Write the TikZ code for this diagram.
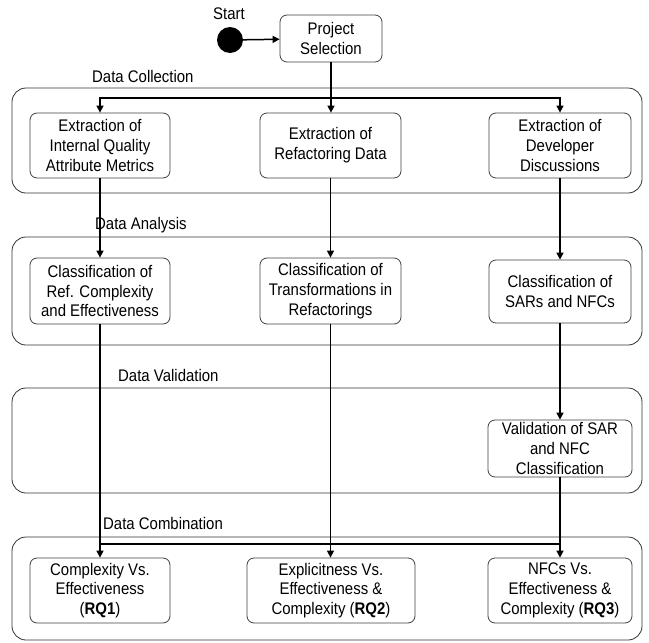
\documentclass[tikz,border=0pt]{standalone}
\usepackage{fontspec}
\setmainfont[FakeStretch=0.89]{Liberation Sans}
\usetikzlibrary{arrows.meta}
\begin{document}
\begin{tikzpicture}[x=1pt,y=-1pt,
  box/.style={draw=black!75,line width=0.8pt,rounded corners=7pt,align=center,inner sep=0pt,font=\fontsize{16.8}{19.8}\selectfont},
  cont/.style={draw=black!80,line width=0.8pt,rounded corners=14pt},
  lbl/.style={font=\fontsize{16.8}{19}\selectfont,anchor=west,inner sep=0pt},
  conn/.style={line width=1.5pt,draw=black},
  arr/.style={conn,-{Triangle[length=7pt,width=7pt]}}]
\useasboundingbox (0,0) rectangle (649,643);
% containers
\draw[cont] (12,88) rectangle (642,193);
\draw[cont] (12,237) rectangle (642,345);
\draw[cont] (12,388) rectangle (642,493);
\draw[cont] (12,537) rectangle (642,640);
% labels
\node[lbl] (l1) at (92,76) {Data Collection};
\node[lbl] (l2) at (95,225) {Data Analysis};
\node[lbl] (l3) at (118,375) {Data Validation};
\node[lbl] (l4) at (103,523) {Data Combination};
% start
\node[circle,fill=black,minimum size=26pt,inner sep=0pt] (st) at (230,40) {};
\node[font=\fontsize{16.8}{19}\selectfont,inner sep=0pt] (stl) at (229,14) {Start};
\node[box,minimum width=102pt,minimum height=47pt] (ps) at (331,38.5) {Project\\Selection};
% row 1
\node[box,minimum width=140pt,minimum height=65pt] (e1) at (100,145.5) {Extraction of\\Internal Quality\\Attribute Metrics};
\node[box,minimum width=141pt,minimum height=65pt] (e2) at (330.5,145.5) {Extraction of\\Refactoring Data};
\node[box,minimum width=142pt,minimum height=65pt] (e3) at (560,145.5) {Extraction of\\Developer\\Discussions};
% row 2
\node[box,minimum width=140pt,minimum height=66pt] (c1) at (100,291) {Classification of\\Ref. Complexity\\and Effectiveness};
\node[box,minimum width=141pt,minimum height=66pt] (c2) at (330.5,291) {Classification of\\Transformations in\\Refactorings};
\node[box,minimum width=142pt,minimum height=63pt] (c3) at (560,291.5) {Classification of\\SARs and NFCs};
% validation
\node[box,minimum width=144pt,minimum height=57pt] (v) at (560,448.5) {Validation of SAR\\and NFC\\Classification};
% row 3
\node[box,minimum width=140pt,minimum height=65pt] (r1) at (100,590.5) {Complexity Vs.\\Effectiveness\\(\textbf{RQ1})};
\node[box,minimum width=168pt,minimum height=65pt] (r2) at (331,590.5) {Explicitness Vs.\\Effectiveness \&\\Complexity (\textbf{RQ2})};
\node[box,minimum width=144pt,minimum height=65pt] (r3) at (560,590.5) {NFCs Vs.\\Effectiveness \&\\Complexity (\textbf{RQ3})};
% connectors
\draw[arr] (st) -- (ps);
\coordinate (j1) at (331,98);
\draw[conn] (ps.south) -- (j1);
\draw[arr] (j1) -| (e1.north);
\draw[arr] (j1) -| (e3.north);
\draw[arr] (j1) -- (ps.south |- e2.north);
\draw[arr] (e1) -- (c1);
\draw[arr] (e2) -- (c2);
\draw[arr] (e3) -- (c3);
\draw[arr] (c3) -- (v);
\draw[arr] (c1) -- (r1);
\draw[arr] (c2.south) -- (c2.south |- r2.north);
\draw[arr] (v) -- (r3);
\coordinate (ja) at (100,544);
\coordinate (jb) at (560,544);
\draw[conn] (ja) -- (jb);
\end{tikzpicture}
\end{document}
